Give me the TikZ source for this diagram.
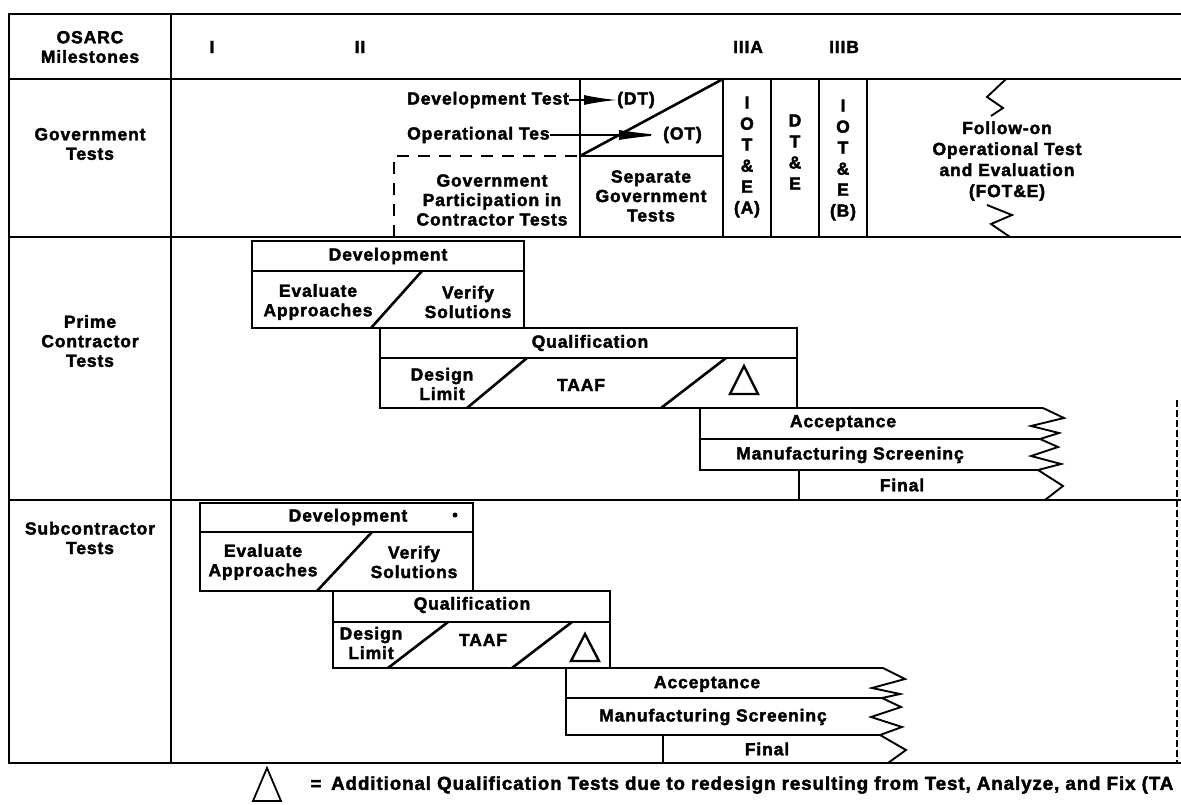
\documentclass[tikz,border=0pt]{standalone}
\usepackage{fontspec}
\setmainfont{Liberation Sans}
\newfontfamily\chartfont{Liberation Sans}[UprightFont={* Bold}, LetterSpace=5, FakeBold=2.2]
\usetikzlibrary{arrows.meta}
\begin{document}
\begin{tikzpicture}[x=1pt,y=-1pt,
  ln/.style={line width=2.6pt},
  thinln/.style={line width=1.9pt, line join=miter},
  dashbox/.style={line width=2.4pt, dash pattern=on 12pt off 9pt},
  txt/.style={font=\chartfont\fontsize{17.5}{19.5}\selectfont, inner sep=0pt, align=center},
  stack/.style={font=\chartfont\fontsize{17.5}{21}\selectfont, inner sep=0pt, align=center},
  note/.style={font=\chartfont\fontsize{18.7}{20}\selectfont, inner sep=0pt},
  arr/.style={line width=1.8pt, -{Latex[length=#1,width=10pt]}},
  delta/.style={line width=2.4pt, line join=miter},
]
\useasboundingbox (0,0) rectangle (1181,805);
\clip (0,0) rectangle (1181,805);

% ---- frame and row/column grid
\draw[ln] (1181,14) -- (9,14) -- (9,763) -- (1181,763);
\draw[ln] (171,14) -- (171,763);
\draw[ln] (9,79) -- (1181,79);
\draw[ln] (9,237) -- (1181,237);
\draw[ln] (9,500) -- (1181,500);
\draw[line width=1.2pt, dash pattern=on 7pt off 3pt] (1177,400) -- (1177,763);

% ---- row headings
\node[txt] (osarc) at (90,47) {OSARC\\Milestones};
\node[txt] (govt) at (90,144) {Government\\Tests};
\node[txt] (prime) at (90,341) {Prime\\Contractor\\Tests};
\node[txt] (sub) at (90,538) {Subcontractor\\Tests};

% ---- milestones
\node[txt] (m1) at (212,47) {I};
\node[txt] (m2) at (360,47) {II};
\node[txt] (m3a) at (748,47) {IIIA};
\node[txt] (m3b) at (844,47) {IIIB};

% ---- government tests
\draw[ln] (580,79) -- (580,237);
\draw[ln] (580,156) -- (723,156);
\draw[ln] (580,156) -- (723,79);
\foreach \x in {723,771,819,867} \draw[ln] (\x,79) -- (\x,237);
\draw[dashbox] (394,237) -- (394,156) -- (580,156);
\node[txt, anchor=west] (devtest) at (407,100) {Development Test};
\node[txt, anchor=west] (dt) at (617,100) {(DT)};
\node[txt, anchor=west] (optest) at (407,135) {Operational Tes};
\node[txt, anchor=west] (ot) at (663,135) {(OT)};
\draw[arr=33pt] (devtest.east) -- (dt.west);
\draw[arr=44pt] (optest.east) -- (ot.west);
\node[txt] (partic) at (492,200) {Government\\Participation in\\Contractor Tests};
\node[txt] (separate) at (651,196) {Separate\\Government\\Tests};
\node[stack] (iotea) at (747,157) {I\\O\\T\\\&\\E\\(A)};
\node[stack] (dte) at (795,152) {D\\T\\\&\\E};
\node[stack] (ioteb) at (843,160) {I\\O\\T\\\&\\E\\(B)};
\node[stack] (fote) at (1007,161) {Follow-on\\Operational Test\\and Evaluation\\(FOT\&E)};
\draw[thinln] (1006,79) -- (987,97) -- (1003,108) -- (991,116);
\draw[thinln] (987,205) -- (1012,215) -- (991,224) -- (1010,237);

% ---- prime contractor: development
\draw[ln] (252,241) rectangle (524,328);
\draw[ln] (252,271) -- (524,271);
\draw[ln] (422,271) -- (371,328);
\node[txt] (pdev) at (388,256) {Development};
\node[txt] (peval) at (318,302) {Evaluate\\Approaches};
\node[txt] (pver) at (468,302) {Verify\\Solutions};
% ---- prime contractor: qualification
\draw[ln] (380,328) rectangle (797,408);
\draw[ln] (380,358) -- (797,358);
\draw[ln] (527,358) -- (467,408);
\draw[ln] (726,358) -- (661,408);
\node[txt] (pqual) at (590,343) {Qualification};
\node[txt] (pdes) at (442,384) {Design\\Limit};
\node[txt] (ptaaf) at (581,385) {TAAF};
\draw[delta] (744,366) -- (758,394) -- (730,394) -- cycle;
% ---- prime contractor: acceptance
\draw[ln] (1043,408) -- (700,408) -- (700,470) -- (1038,470);
\draw[ln] (700,439) -- (1040,439);
\draw[ln] (799,470) -- (799,500);
\draw[thinln] (1043,408) -- (1064,418) -- (1031,426) -- (1059,433) -- (1040,439)
  -- (1058,447) -- (1031,456) -- (1061,464) -- (1038,470) -- (1063,486) -- (1045,500);
\node[txt] (pacc) at (843,423) {Acceptance};
\node[txt] (pman) at (850,455) {Manufacturing Screeninç};
\node[txt] (pfin) at (902,485) {Final};

% ---- subcontractor: development
\draw[ln] (200,503) rectangle (473,591);
\draw[ln] (200,532) -- (473,532);
\draw[ln] (372,532) -- (317,591);
\node[txt] (sdev) at (348,517) {Development};
\fill (455,515) circle (2.5);
\node[txt] (seval) at (263,562) {Evaluate\\Approaches};
\node[txt] (sver) at (414,562) {Verify\\Solutions};
% ---- subcontractor: qualification
\draw[ln] (333,591) rectangle (610,668);
\draw[ln] (333,622) -- (610,622);
\draw[ln] (448,622) -- (388,668);
\draw[ln] (572,622) -- (512,668);
\node[txt] (squal) at (472,605) {Qualification};
\node[txt] (sdes) at (371,643) {Design\\Limit};
\node[txt] (staaf) at (483,640) {TAAF};
\draw[delta] (585,634) -- (599,661) -- (571,661) -- cycle;
% ---- subcontractor: acceptance
\draw[ln] (883,668) -- (566,668) -- (566,735) -- (880,735);
\draw[ln] (566,698) -- (882,698);
\draw[ln] (663,735) -- (663,763);
\draw[thinln] (883,668) -- (905,679) -- (872,688) -- (900,694) -- (882,698)
  -- (901,707) -- (871,717) -- (902,727) -- (880,735) -- (906,750) -- (888,763);
\node[txt] (sacc) at (707,684) {Acceptance};
\node[txt] (sman) at (713,717) {Manufacturing Screeninç};
\node[txt] (sfin) at (767,749) {Final};

% ---- legend
\draw[line width=1.8pt, line join=miter] (267,768) -- (281,801) -- (253,801) -- cycle;
\node[note] (eq) at (316,785) {=};
\node[note, anchor=west] (legend) at (331,785) {Additional Qualification Tests due to redesign resulting from Test, Analyze, and Fix (TA};
\end{tikzpicture}
\end{document}
